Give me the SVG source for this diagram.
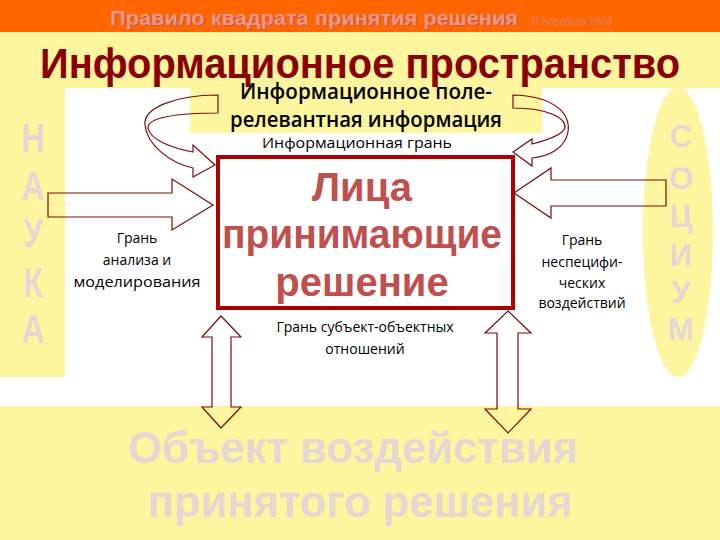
<svg xmlns="http://www.w3.org/2000/svg" width="720" height="540" viewBox="0 0 720 540">
<style>
.bg{fill:#FEF69E}
.arr{fill:none;stroke:#7A0A0A;stroke-width:1.2;stroke-linejoin:miter}
.ar{font-family:"Liberation Sans",Arial,sans-serif;font-weight:bold}
.os{font-family:"Open Sans","DejaVu Sans",sans-serif}
.ghost{fill:#E8D6D2}
.lbl{font-size:14px;fill:#000;text-anchor:middle}
</style>
<rect x="0" y="0" width="720" height="540" fill="#FFFFFF"/>
<g id="background">
<rect class="bg" x="0" y="32" width="720" height="56"/>
<rect class="bg" x="0" y="32" width="65" height="345"/>
<rect class="bg" x="0" y="406" width="720" height="134"/>
<rect class="bg" x="190" y="88" width="352" height="45"/>
<ellipse class="bg" cx="678" cy="232" rx="35" ry="145"/>
<rect x="0" y="0" width="720" height="32" fill="#FF6600"/>
</g>
<g id="header">
<text class="ar" x="111" y="26" font-size="21" fill="#C95A48" textLength="408" lengthAdjust="spacingAndGlyphs">Правило квадрата принятия решения</text>
<text class="ar" x="110" y="25" font-size="21" fill="#EE9585" textLength="408" lengthAdjust="spacingAndGlyphs">Правило квадрата принятия решения</text>
<text x="532" y="25" font-family="Liberation Sans,Arial,sans-serif" font-size="10" fill="#E0806E" textLength="80" lengthAdjust="spacingAndGlyphs">П.Воробьев 2003</text>
</g>
<g id="title">
<text class="ar" x="40" y="78" font-size="43" fill="#8B0000" textLength="640" lengthAdjust="spacingAndGlyphs">Информационное пространство</text>
</g>
<g id="nauka" class="ar ghost" font-size="40" text-anchor="middle">
<g transform="scale(0.8,1)">
<text x="41.25" y="152">Н</text>
<text x="41.25" y="200">А</text>
<text x="41.25" y="247">У</text>
<text x="41.25" y="297">К</text>
<text x="41.25" y="343">А</text>
</g>
</g>
<g id="socium" class="ar ghost" font-size="31" text-anchor="middle">
<text x="681" y="147">С</text>
<text x="681" y="189">О</text>
<text x="681" y="227">Ц</text>
<text x="681" y="266">И</text>
<text x="681" y="303">У</text>
<text x="681" y="340">М</text>
</g>
<g id="info-field">
<text class="os" x="366" y="99" font-size="21" font-weight="600" text-anchor="middle" textLength="252" lengthAdjust="spacingAndGlyphs">Информационное поле-</text>
<text class="os" x="366" y="127" font-size="21" font-weight="600" text-anchor="middle" textLength="272" lengthAdjust="spacingAndGlyphs">релевантная информация</text>
</g>
<g id="info-edge">
<text class="os lbl" x="357" y="148" font-size="15" textLength="190" lengthAdjust="spacingAndGlyphs">Информационная грань</text>
</g>
<g id="decision-makers">
<rect x="218" y="157" width="295" height="151" fill="#FFFFFF" stroke="#B00000" stroke-width="4"/>
<g class="ar" fill="#C0504D" font-size="40" text-anchor="middle">
<text x="362" y="201">Лица</text>
<text x="362" y="248" textLength="280" lengthAdjust="spacingAndGlyphs">принимающие</text>
<text x="362" y="296">решение</text>
</g>
</g>
<g id="analysis-edge" class="os lbl">
<text x="137" y="243">Грань</text>
<text x="137" y="265">анализа и</text>
<text x="137" y="287" textLength="127" lengthAdjust="spacingAndGlyphs">моделирования</text>
</g>
<g id="nonspecific-edge" class="os lbl">
<text x="582" y="245">Грань</text>
<text x="582" y="267">неспецифи-</text>
<text x="582" y="288">ческих</text>
<text x="582" y="308">воздействий</text>
</g>
<g id="subject-object-edge" class="os lbl">
<text x="365" y="332">Грань субъект-объектных</text>
<text x="365" y="354">отношений</text>
</g>
<g id="object">
<text class="ar ghost" x="353" y="463" font-size="44" text-anchor="middle" textLength="450" lengthAdjust="spacingAndGlyphs">Объект воздействия</text>
<text class="ar ghost" x="360" y="517" font-size="44" text-anchor="middle" textLength="425" lengthAdjust="spacingAndGlyphs">принятого решения</text>
</g>
<g id="connectors">
<path class="arr" d="M218,95 L218,113 C175,113 147,118 148,128 C150,140 172,148 193,152 L193,145 L215,165 L193,177 L193,168 C170,163 147,145 145,125 C143,108 175,95 218,95 Z"/>
<path class="arr" d="M513,95 C552,96 571,112 568,132 C565,148 550,156 532,158 L532,166 L513,152 L532,139 L532,144 C548,140 562,135 565,128 C566,118 548,108 513,108 Z"/>
<path class="arr" d="M48,193 L172,193 L172,179 L213,205 L172,230 L172,217 L48,217 Z"/>
<path class="arr" d="M514,193 L551,168 L551,180 L666,180 L666,206 L551,206 L551,218 Z"/>
<path class="arr" d="M221,316 L241,337 L231,337 L231,407 L241,407 L221,428 L202,407 L212,407 L212,337 L202,337 Z"/>
<path class="arr" d="M508,311 L531,333 L518,333 L518,409 L531,409 L508,433 L485,409 L497,409 L497,333 L485,333 Z"/>
</g>
</svg>
